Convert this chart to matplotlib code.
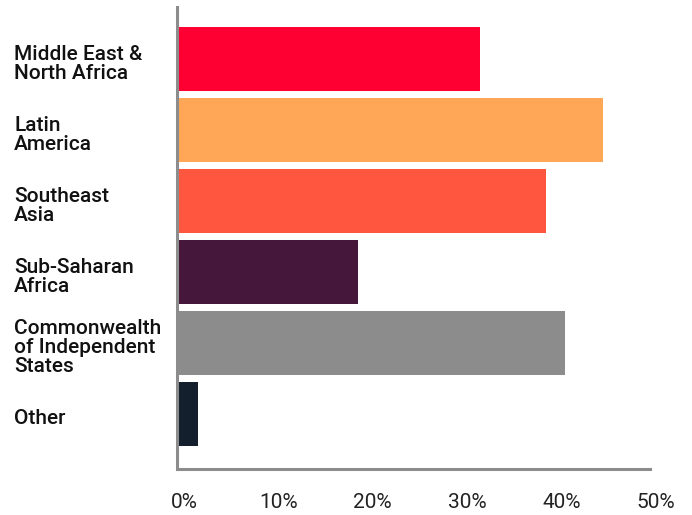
import matplotlib.pyplot as plt
import matplotlib.transforms as mtransforms
from matplotlib.ticker import FuncFormatter

regions = ['Middle East &\nNorth Africa', 'Latin\nAmerica', 'Southeast\nAsia',
           'Sub-Saharan\nAfrica', 'Commonwealth\nof Independent\nStates', 'Other']
shares = [32.0, 45.0, 39.0, 19.1, 41.0, 2.1]
barColors = ['#FF0033', '#FFA756', '#FF5640', '#45173A', '#8C8C8C', '#131F2C']
xTicks = [0, 10, 20, 30, 40, 50]

plt.rcParams['font.family'] = ['Roboto', 'DejaVu Sans']

W, H = 692, 515
fig = plt.figure(figsize=(W / 100, H / 100), dpi=100)
ax = fig.add_axes([178 / W, 46 / H, (650 - 178) / W, (508 - 46) / H])

pos = list(range(len(regions)))
ax.barh(pos, shares, height=0.9, color=barColors)
ax.set_ylim(5.775, -0.732)
ax.set_xlim(0, 50)

for side in ['top', 'right']:
    ax.spines[side].set_visible(False)
for side in ['left', 'bottom']:
    ax.spines[side].set_color('#8C8C8C')
    ax.spines[side].set_linewidth(2.2)
ax.spines['left'].set_position(('outward', 1))

ax.set_yticks([])
ax.set_xticks(xTicks)
ax.xaxis.set_major_formatter(FuncFormatter(lambda v, p: f'{v:.0f}%'))
ax.tick_params(axis='x', length=0, pad=17, labelsize=15, labelcolor='#222222')
offset = mtransforms.ScaledTranslation(6 / 100, 0, fig.dpi_scale_trans)
for lbl in ax.get_xticklabels():
    lbl.set_transform(lbl.get_transform() + offset)

down = mtransforms.ScaledTranslation(0, -5 / 100, fig.dpi_scale_trans)
trans = mtransforms.blended_transform_factory(fig.transFigure, ax.transData) + down
for p, name in zip(pos, regions):
    ax.text(14 / W, p, name, transform=trans, ha='left', va='center',
            fontsize=15, fontweight='medium', color='#111111', linespacing=1.0)

fig.savefig('out.png', dpi=100)
